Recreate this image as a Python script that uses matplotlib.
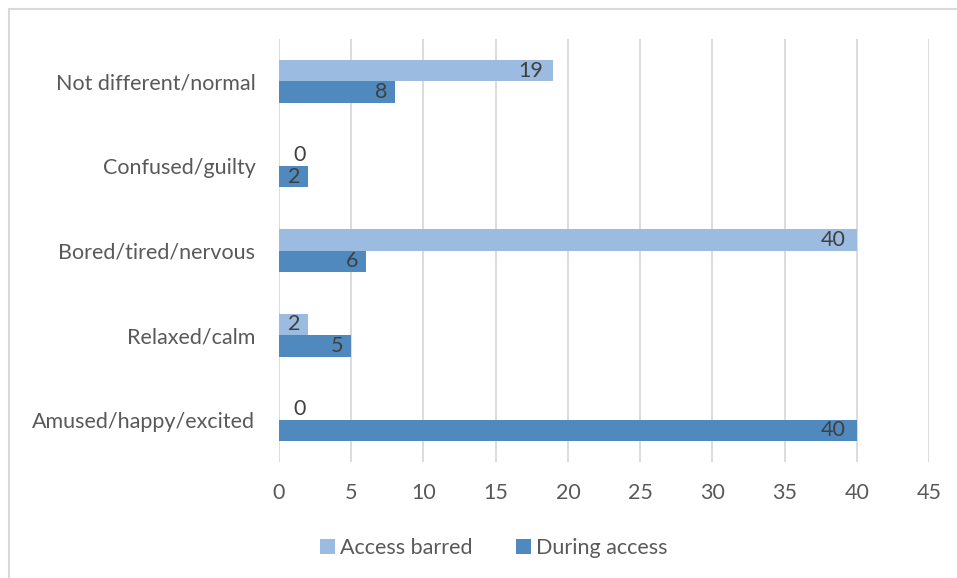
import matplotlib
matplotlib.use("Agg")
from matplotlib import pyplot as plt
from matplotlib.patches import Rectangle
import numpy as np

# categories bottom -> top
categories = ["Amused/happy/excited", "Relaxed/calm", "Bored/tired/nervous",
              "Confused/guilty", "Not different/normal"]
access_barred = [0, 2, 40, 0, 19]
during_access = [40, 5, 6, 2, 8]
x_ticks = list(range(0, 50, 5))

light = "#9BBBE0"
dark = "#4F89BD"
grid_c = "#D9D9D9"
tick_c = "#595959"
label_c = "#404040"
fs = 15.5

plt.rcParams['font.family'] = ['Lato', 'DejaVu Sans']

W, H = 957, 578
fig = plt.figure(figsize=(W / 100, H / 100), dpi=100)
ax = fig.add_axes([279 / W, 1 - 462 / H, (929 - 279) / W, (462 - 39) / H])

y = np.arange(len(categories))
h = 0.255
ax.barh(y + h / 2, access_barred, height=h, color=light, label="Access barred", zorder=2)
ax.barh(y - h / 2, during_access, height=h, color=dark, label="During access", zorder=2)

# data labels (inside end, Excel style)
for vals, off in ((access_barred, h / 2), (during_access, -h / 2)):
    for yi, v in zip(y, vals):
        if v == 0:
            xp = 1.45
        elif v < 10:
            xp = v - 0.95
        else:
            xp = v - 1.6
        ax.text(xp, yi + off, str(v), ha="center", va="center",
                fontsize=fs, color=label_c, zorder=3)

ax.set_xlim(0, 45)
ax.set_ylim(-0.5, len(categories) - 0.5)
ax.set_xticks(x_ticks)
ax.set_yticks(y)
ax.set_yticklabels(categories)
ax.xaxis.grid(True, color=grid_c, linewidth=1.3, zorder=0)
ax.tick_params(axis="both", length=0, labelsize=fs, labelcolor=tick_c)
ax.tick_params(axis="x", pad=15)
ax.tick_params(axis="y", pad=17)
for s in ax.spines.values():
    s.set_visible(False)

leg = fig.legend(loc="center", bbox_to_anchor=(494 / W, 1 - 548 / H), ncol=2,
                 frameon=False, fontsize=fs, handlelength=0.7, handleheight=0.7,
                 handletextpad=0.25, columnspacing=2.0)
for t in leg.get_texts():
    t.set_color(tick_c)

# chart area border
fig.patches.append(Rectangle((9 / W, -0.1), 1.2, 1 - 9 / H + 0.1,
                             transform=fig.transFigure, fill=False,
                             edgecolor="#D9D9D9", linewidth=1.5))

plt.savefig("out.png", dpi=100)
